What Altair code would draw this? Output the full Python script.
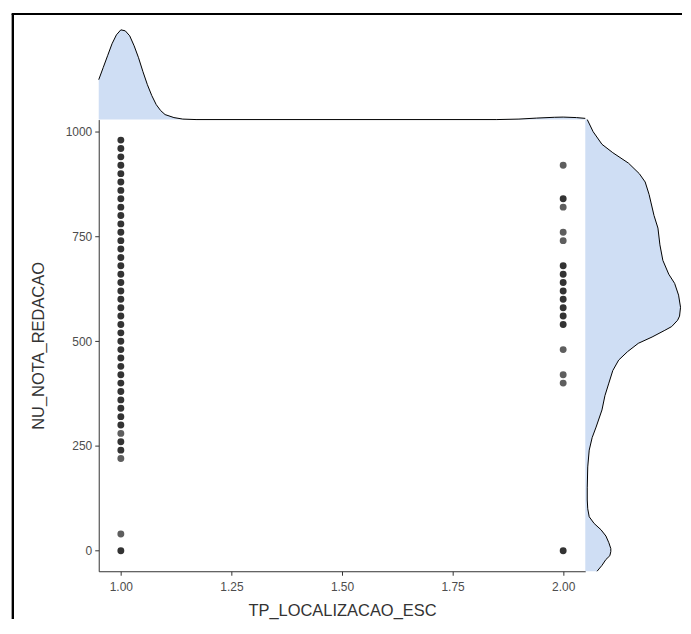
import altair as alt
import pandas as pd

# ---- data ----
# school location 1.00: essay scores and how many points overlap there
x1_scores = [0, 40, 220, 240, 260, 280, 300, 320, 340, 360, 380, 400, 420, 440, 460,
             480, 500, 520, 540, 560, 580, 600, 620, 640, 660, 680, 700, 720, 740,
             760, 780, 800, 820, 840, 860, 880, 900, 920, 940, 960, 980]
x1_counts = [3, 1, 1, 2, 2, 1, 2, 2, 2, 2, 2, 2, 2, 2, 2,
             2, 2, 2, 2, 2, 2, 2, 2, 2, 2, 2, 2, 2, 2,
             2, 2, 2, 2, 2, 2, 2, 2, 2, 2, 2, 2]
# school location 2.00
x2_scores = [0, 400, 420, 480, 540, 560, 580, 600, 620, 640, 660, 680, 740, 760, 820, 840, 920]
x2_counts = [2, 1, 1, 1, 2, 2, 2, 2, 2, 2, 2, 2, 1, 1, 1, 2, 1]

# marginal density of TP_LOCALIZACAO_ESC (scaled density)
dx_vals = [0.95, 0.96, 0.97, 0.98, 0.99, 1.00, 1.01, 1.02, 1.03, 1.04, 1.05, 1.06, 1.07,
           1.08, 1.09, 1.10, 1.12, 1.14, 1.17, 1.85, 1.90, 1.94, 1.98, 2.00, 2.03, 2.05]
dx_dens = [40, 52, 64, 76, 85, 90, 89, 84, 74, 62, 48, 35, 24,
           15, 9, 5, 2, 0.5, 0, 0, 0.5, 1.5, 2.3, 2.5, 2.0, 1.2]

# marginal density of NU_NOTA_REDACAO (scaled density)
dy_vals = [1029, 1000, 970, 950, 925, 900, 880, 850, 830, 800, 770, 730, 693, 660, 638,
           610, 581, 560, 550, 535, 526, 510, 495, 475, 455, 430, 400, 370, 336, 295,
           270, 240, 200, 150, 121, 100, 81, 65, 50, 35, 19, 5, -2, -12, -21, -35, -49]
dy_dens = [2, 8, 17, 28, 44, 55, 61, 65, 67, 70, 74, 76, 79, 85, 91,
           95, 97, 96, 94, 88, 81, 68, 54, 43, 34, 28, 24, 20, 17, 11,
           7, 4, 2.5, 2, 2, 2.5, 4, 9, 16, 21, 24, 26, 26, 25, 21, 17, 12]

X_DOMAIN = [0.95, 2.05]
Y_DOMAIN = [-49, 1029]
FILL = "#cfdef4"
FONT = "Liberation Sans"

pts = pd.DataFrame({
    "TP_LOCALIZACAO_ESC": [1.0] * len(x1_scores) + [2.0] * len(x2_scores),
    "NU_NOTA_REDACAO": x1_scores + x2_scores,
    "n": [min(c, 2) for c in x1_counts + x2_counts],
})
dens_x = pd.DataFrame({"v": dx_vals, "d": dx_dens})
dens_y = pd.DataFrame({"v": dy_vals, "d": dy_dens})

W, H = 488, 453
TOP_H, RIGHT_W = 95, 97

# --- top marginal ---
top_base = alt.Chart(dens_x).encode(
    x=alt.X("v:Q", scale=alt.Scale(domain=X_DOMAIN, nice=False, zero=False), axis=None),
    y=alt.Y("d:Q", scale=alt.Scale(domain=[0, 95], nice=False), axis=None),
)
top_area = top_base.mark_area(color=FILL, opacity=1)
top_line = top_base.mark_line(color="black", strokeWidth=1)

# decorative outer frame (as in the screenshot)
frame_v = alt.Chart(dens_x).mark_rule(color="black", strokeWidth=2).encode(
    x=alt.value(-86), y=alt.value(-11), y2=alt.value(596)
)
frame_h = alt.Chart(dens_x).mark_rule(color="black", strokeWidth=2).encode(
    x=alt.value(-87), x2=alt.value(585), y=alt.value(-11)
)
top = alt.layer(top_area, top_line, frame_v, frame_h).properties(width=W, height=TOP_H)

# --- scatter ---
scatter = alt.Chart(pts).mark_circle(size=48, opacity=1).encode(
    x=alt.X("TP_LOCALIZACAO_ESC:Q",
            scale=alt.Scale(domain=X_DOMAIN, nice=False, zero=False),
            axis=alt.Axis(values=[1.0, 1.25, 1.5, 1.75, 2.0], format=".2f",
                          title="TP_LOCALIZACAO_ESC", titlePadding=10, labelPadding=6)),
    y=alt.Y("NU_NOTA_REDACAO:Q",
            scale=alt.Scale(domain=Y_DOMAIN, nice=False, zero=False),
            axis=alt.Axis(values=[0, 250, 500, 750, 1000], format="d",
                          title="NU_NOTA_REDACAO", titlePadding=19, labelPadding=3)),
    color=alt.Color("n:O", scale=alt.Scale(domain=[1, 2], range=["#5e5e5e", "#333333"]),
                    legend=None),
).properties(width=W, height=H)

# --- right marginal ---
right_base = alt.Chart(dens_y).encode(
    y=alt.Y("v:Q", scale=alt.Scale(domain=Y_DOMAIN, nice=False, zero=False), axis=None),
    x=alt.X("d:Q", scale=alt.Scale(domain=[0, 98.5], nice=False), axis=None),
)
right_area = right_base.mark_area(color=FILL, opacity=1, orient="horizontal")
right_line = right_base.mark_line(color="black", strokeWidth=1).encode(order="v:Q")
right = alt.layer(right_area, right_line).properties(width=RIGHT_W, height=H)

row = alt.hconcat(scatter, right, spacing=0, bounds="flush")
chart = alt.vconcat(top, row, spacing=0, bounds="flush").properties(
    padding={"left": 3, "top": 4, "right": 0, "bottom": 0},
    background="white",
).configure_view(stroke=None).configure_axis(
    grid=False,
    labelFont=FONT, labelFontSize=12, labelColor="#4d4d4d",
    titleFont=FONT, titleFontSize=16.5, titleFontWeight="normal", titleColor="#333333",
    domainColor="#333333", tickColor="#333333", tickSize=4,
)

chart.save("out.html", embed_options={"renderer": "svg", "actions": False})
